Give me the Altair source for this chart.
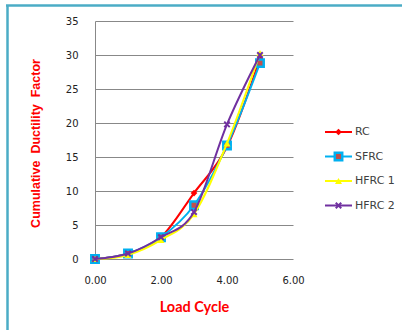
import altair as alt
import pandas as pd

cycles = [0, 1, 2, 3, 4, 5]
rc = [0.0, 0.8, 3.2, 9.7, 16.5, 29.5]
sfrc = [0.0, 0.8, 3.2, 7.9, 16.7, 28.8]
hfrc1 = [0.0, 0.6, 2.8, 6.6, 17.0, 30.3]
hfrc2 = [0.0, 0.8, 3.2, 6.9, 19.8, 30.0]

series_names = ["RC", "SFRC", "HFRC 1", "HFRC 2"]
series_vals = [rc, sfrc, hfrc1, hfrc2]
line_colors = ["#FF0000", "#00B0F0", "#FFFF00", "#7030A0"]
fill_colors = ["#FF0000", "#C0504D", "#FFFF00", "#7030A0"]
shapes = ["diamond", "square", "triangle-up", "M-1,-1L1,1M1,-1L-1,1"]
filled = [True, True, True, False]
sizes = [45, 55, 50, 30]

W, H = 198, 238
PL, PT = 95, 21

xscale = alt.Scale(domain=[0, 6], nice=False)
yscale = alt.Scale(domain=[0, 35], nice=False)

xaxis = alt.Axis(values=[0, 2, 4, 6], format=".2f", grid=False, domain=False, ticks=False,
                 labelFlush=False,
                 labelFont="DejaVu Sans", labelFontSize=10, labelColor="#222222",
                 labelPadding=16, title="Load Cycle", titleFont="Lato", titleFontSize=14.5,
                 titleFontWeight="bold", titleColor="#FF0000", titlePadding=15)
yaxis = alt.Axis(values=list(range(0, 36, 5)), grid=True, gridColor="#888888", gridWidth=1,
                 domain=True, domainColor="#888888", ticks=False, labelFlush=False,
                 labelFont="DejaVu Sans", labelFontSize=10, labelColor="#222222",
                 labelPadding=17, title="Cumulative\u00a0\u00a0Ductility\u00a0\u00a0Factor",
                 titleFont="Liberation Sans",
                 titleFontSize=12.5, titleFontWeight="bold", titleColor="#FF0000",
                 titleX=-60, titleY=122, titleBaseline="middle", titleAngle=270,
                 titleAlign="center")

X = alt.X("cycle:Q", scale=xscale, axis=xaxis)
Y = alt.Y("value:Q", scale=yscale, axis=yaxis)


def marker_kwargs(i):
    kw = dict(shape=shapes[i], size=sizes[i], opacity=1)
    if filled[i]:
        kw.update(filled=True, fill=fill_colors[i])
        if i == 1:
            kw.update(stroke=line_colors[i], strokeWidth=2.5)
    else:
        kw.update(filled=False, stroke=line_colors[i], strokeWidth=2)
    return kw


layers = []
for i, (name, vals) in enumerate(zip(series_names, series_vals)):
    df = pd.DataFrame({"cycle": cycles, "value": vals, "series": name})
    line = alt.Chart(df).mark_line(color=line_colors[i], strokeWidth=2,
                                   interpolate="cardinal").encode(x=X, y=Y)
    pts = alt.Chart(df).mark_point(**marker_kwargs(i)).encode(x=X, y=Y)
    layers += [line, pts]

# Legend built from series names
legend_layers = []
for i, name in enumerate(series_names):
    ldf = pd.DataFrame({"series": [name]})
    ypos = 111 + i * 24.5
    r = alt.Chart(ldf).mark_rule(color=line_colors[i], strokeWidth=2).encode(
        x=alt.value(230), x2=alt.value(257), y=alt.value(ypos))
    p = alt.Chart(ldf).mark_point(**marker_kwargs(i)).encode(x=alt.value(243.5), y=alt.value(ypos))
    t = alt.Chart(ldf).mark_text(align="left", baseline="middle", font="DejaVu Sans",
                                 fontSize=11, color="#404040").encode(
        x=alt.value(260), y=alt.value(ypos), text="series:N")
    legend_layers += [r, p, t]

border_df = pd.DataFrame({"k": [0]})
border_left = alt.Chart(border_df).mark_rule(color="#4BACC6", strokeWidth=2.5).encode(
    x=alt.value(-87.5), y=alt.value(-16), y2=alt.value(330))
border_top = alt.Chart(border_df).mark_rule(color="#4BACC6", strokeWidth=2.5).encode(
    x=alt.value(-89), x2=alt.value(320), y=alt.value(-15.5))

chart = alt.layer(*layers, *legend_layers, border_left, border_top).properties(
    width=W, height=H,
    autosize=alt.AutoSizeParams(type="none"),
    padding={"left": PL, "top": PT, "right": 402 - PL - W, "bottom": 330 - PT - H},
    background="white",
).configure_view(stroke=None)

chart.save("out.html", embed_options={"renderer": "svg", "actions": False})
